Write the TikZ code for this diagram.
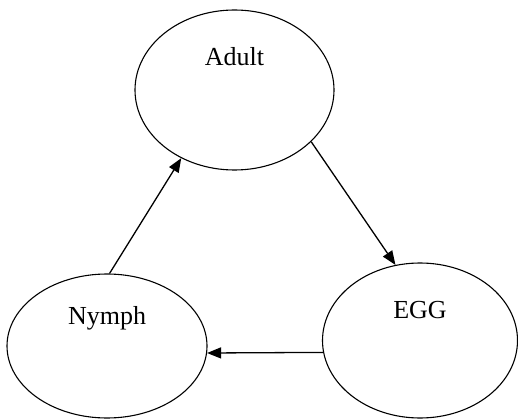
\documentclass[tikz,border=0pt]{standalone}
\usepackage{fontspec}
\setmainfont{Liberation Serif}
\usetikzlibrary{shapes.geometric,arrows.meta}

\begin{document}
\begin{tikzpicture}[x=1pt,y=-1pt,
		stage/.style={ellipse,draw,line width=1.1pt,inner sep=0pt},
		stagetext/.style={font=\fontsize{26}{30}\selectfont},
		cycle/.style={line width=1.3pt,-{Triangle[length=14pt,width=11pt]}}]
		\useasboundingbox (0,0) rectangle (518,419);
		\node[stage,minimum width=199pt,minimum height=160pt,
			label={[stagetext,yshift=33pt]center:Adult}] (adult) at (234.5,90) {};
		\node[stage,minimum width=195pt,minimum height=155pt,
			label={[stagetext,yshift=30pt]center:EGG}] (egg) at (420,340.5) {};
		\node[stage,minimum width=200pt,minimum height=144pt,
			label={[stagetext,yshift=28pt]center:Nymph}] (nymph) at (107,346) {};
		\draw[cycle] (adult.-34) -- (egg.108);
		\draw[cycle] (egg.187) -- (nymph.-4);
		\draw[cycle] (nymph.88) -- (adult.-128);
	\end{tikzpicture}
\end{document}
